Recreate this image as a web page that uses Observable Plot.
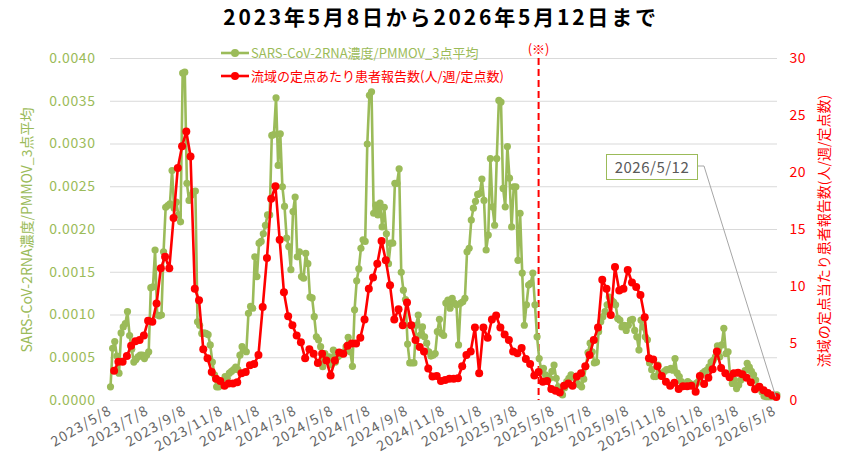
<!DOCTYPE html>
<html><head><meta charset="utf-8">
<script src="https://cdn.jsdelivr.net/npm/d3@7"></script>
<script src="https://cdn.jsdelivr.net/npm/@observablehq/plot@0.6"></script>
<style>
body{margin:0;background:#fff;}
#wrap{position:relative;width:858px;height:458px;overflow:hidden;font-family:"Noto Sans CJK JP","Noto Sans",sans-serif;}
#wrap svg.main{position:absolute;left:0;top:0;}
#wrap svg.main g[aria-label="x-axis tick label"] text{letter-spacing:1.2px;}
#wrap svg.main g[aria-label="y-axis tick label"] text{letter-spacing:0.6px;}
.title{position:absolute;left:0;top:1px;width:882px;text-align:center;font-size:21px;font-weight:bold;letter-spacing:2.8px;color:#000;}
.leg{position:absolute;left:221px;font-size:13px;white-space:nowrap;display:flex;align-items:center;}
.leg svg{margin-right:2px;}
.ytl{position:absolute;font-size:14px;white-space:nowrap;transform:translate(-50%,-50%) rotate(-90deg);}
.note{position:absolute;left:606px;top:154px;width:90px;height:24px;border:1.5px solid #9BBB59;color:#595959;font-size:15px;text-align:center;line-height:24px;letter-spacing:0.5px;background:#fff;}
</style></head><body><div id="wrap"></div>
<script>
const greenColor = "#9BBB59", redColor = "#FF0000";
const titleText = "2023年5月8日から2026年5月12日まで";
const greenName = "SARS-CoV-2RNA濃度/PMMOV_3点平均";
const redName = "流域の定点あたり患者報告数(人/週/定点数)";
const rightTitle = "流域の定点当たり患者報告数(人/週/定点数)";
const noteText = "2026/5/12";
const sepLabel = "(※)";
const sepDate = "2025-04-13";
const axisStart = "2023-05-08", axisEnd = "2026-05-12";
const xTickLabels = ["2023/5/8","2023/7/8","2023/9/8","2023/11/8","2024/1/8","2024/3/8","2024/5/8","2024/7/8","2024/9/8","2024/11/8","2025/1/8","2025/3/8","2025/5/8","2025/7/8","2025/9/8","2025/11/8","2026/1/8","2026/3/8","2026/5/8"];
const leftTicks = [0,0.0005,0.001,0.0015,0.002,0.0025,0.003,0.0035,0.004];
const rightTicks = [0,5,10,15,20,25,30];

// green: 3-point mean of RNA/PMMoV, twice weekly from 2023-05-08 (units of 1e-4)
const greenStart = "2023-05-08";
const greenValues = [
1.6,6.1,6.9,5.2,3.2,7.9,8.6,9.0,10.4,7.6,
6.0,4.5,4.8,5.1,5.3,5.3,4.9,5.3,5.7,13.2,
13.3,17.6,10.0,9.9,10.0,17.4,22.6,22.8,23.0,26.9,
22.5,23.2,21.7,20.9,38.3,38.4,25.4,23.4,24.0,24.4,
24.5,9.2,8.8,7.85,7.9,7.85,7.7,6.5,4.5,3.0,
1.6,1.6,1.8,1.8,2.8,2.6,3.2,3.4,3.6,3.9,
3.6,5.3,6.3,5.9,5.7,10.2,11.0,10.8,16.8,14.5,
18.4,18.6,19.5,20.5,21.7,21.7,31.0,31.1,35.4,27.5,
31.2,25.0,22.7,19.0,18.0,15.3,22.1,23.8,16.8,17.4,
14.5,14.3,17.2,16.0,12.1,12.0,9.8,7.45,7.1,6.3,
3.95,5.5,4.7,5.1,4.15,5.9,4.5,5.1,5.3,5.5,
5.7,6.3,7.4,5.7,4.0,10.6,14.0,15.4,17.8,18.8,
18.6,30.0,35.7,36.1,21.9,22.85,21.7,23.1,20.3,22.6,
19.5,16.0,18.4,18.4,25.4,25.4,27.1,15.0,12.9,11.8,
6.6,4.4,4.4,4.4,8.8,10.0,7.65,8.6,7.45,6.7,
5.7,5.2,5.3,5.5,8.05,9.5,7.85,7.6,11.4,11.75,
10.8,11.95,11.4,11.2,6.5,11.4,11.55,11.95,17.4,17.8,
21.1,22.5,23.3,24.1,24.2,25.9,23.4,17.6,19.35,28.3,
22.65,20.5,28.3,35.1,34.9,24.8,22.65,29.7,26.0,20.3,
25.0,25.0,16.4,21.9,14.9,8.8,11.2,13.5,13.7,14.9,
11.2,7.45,4.9,3.55,3.75,3.0,2.8,2.6,3.4,4.15,
2.6,1.6,1.2,0.65,1.5,2.2,2.6,3.0,2.8,2.6,
2.0,1.8,1.6,2.5,4.0,5.6,6.7,5.7,4.4,4.5,
8.05,9.2,9.8,10.4,11.2,12.1,11.75,11.5,11.2,9.6,
9.4,8.6,8.8,8.2,8.8,9.4,9.5,8.2,7.45,5.9,
9.4,8.6,7.45,7.1,4.4,3.6,2.8,2.8,4.15,3.0,
2.8,3.4,3.6,3.6,3.75,3.55,4.9,3.2,2.8,2.2,
1.8,1.9,2.2,2.0,1.8,1.7,2.0,2.2,2.8,3.2,
3.4,3.55,3.95,4.5,4.7,5.1,6.4,5.1,6.5,8.45,
5.5,5.7,2.8,2.0,2.4,1.4,1.8,2.4,2.8,3.5,
4.35,3.9,3.4,3.0,2.4,1.6,1.6,1.0,0.5,0.45,
0.45,0.45,0.5,0.6,0.65];

// red: weekly sentinel reports per site, from 2023-05-14
const redStart = "2023-05-14";
const redValues = [
2.6,3.4,3.4,3.9,4.8,5.2,5.3,5.7,7.0,6.9,
8.5,11.6,12.6,11.6,16.0,20.4,22.3,23.6,21.4,9.8,
8.8,4.5,3.7,2.5,1.9,1.7,1.3,1.5,1.5,1.6,
2.4,2.5,3.1,3.2,4.0,8.2,12.5,17.7,18.8,14.1,
9.5,7.4,6.6,5.7,5.1,3.7,4.5,4.1,3.3,4.1,
3.5,2.2,3.5,4.2,4.1,4.8,5.0,5.0,5.5,7.1,
9.8,10.8,12.0,14.0,12.3,10.1,7.1,8.0,6.6,8.6,
6.6,5.3,4.7,4.3,2.8,2.1,2.15,1.7,1.8,1.9,
1.9,1.95,3.0,4.0,4.3,6.4,2.4,6.4,5.5,7.1,
7.45,6.4,5.8,5.3,4.3,4.15,4.6,3.65,3.2,2.2,
2.5,1.65,1.7,1.0,0.86,0.7,1.3,1.5,1.3,2.1,
2.4,3.0,4.0,5.3,6.4,10.6,9.8,7.5,11.7,9.65,
9.8,11.45,10.35,9.95,9.25,7.3,3.7,3.6,3.0,2.15,
1.65,1.3,1.56,1.0,1.25,1.25,1.3,0.77,2.15,1.45,
2.0,2.74,4.3,2.85,2.4,2.05,2.4,2.44,2.3,2.0,
1.6,0.98,1.2,0.9,0.65,0.45,0.3];

const parse = d3.utcParse("%Y-%m-%d");
const parseSlash = d3.utcParse("%Y/%m/%d");
const kR = 0.004 / 30;
const green = greenValues.map((v, i) => ({date: d3.utcHour.offset(parse(greenStart), 84 * i), v: v * 1e-4}));
const red = redValues.map((v, i) => ({date: d3.utcDay.offset(parse(redStart), 7 * i), v: v * kR}));
const xTicks = xTickLabels.map(s => parseSlash(s));
const labelOf = new Map(xTicks.map((d, i) => [+d, xTickLabels[i]]));

const chart = Plot.plot({
  width: 858, height: 458,
  marginLeft: 110, marginRight: 81, marginTop: 58, marginBottom: 58,
  style: {fontFamily: '"Noto Sans CJK JP","Noto Sans",sans-serif', background: "transparent"},
  x: {type: "utc", domain: [parse(axisStart), parse(axisEnd)]},
  y: {domain: [0, 0.004]},
  marks: [
    Plot.gridY(leftTicks, {stroke: "#d9d9d9", strokeOpacity: 1, strokeWidth: 1.2}),
    Plot.axisY(leftTicks, {anchor: "left", tickSize: 0, tickPadding: 15, tickFormat: d => d.toFixed(4), fill: greenColor, fontSize: 14, label: null}),
    Plot.axisY(rightTicks.map(v => v * kR), {anchor: "right", tickSize: 0, tickPadding: 12, tickFormat: d => String(Math.round(d / kR)), fill: redColor, fontSize: 14, label: null}),
    Plot.axisX(xTicks, {anchor: "bottom", tickSize: 0, tickPadding: 9, tickRotate: -30, tickFormat: d => labelOf.get(+d), fill: "#666666", fontSize: 14, label: null}),
    Plot.ruleX([parse(sepDate)], {stroke: redColor, strokeWidth: 2, strokeDasharray: "7,4"}),
    Plot.text([parse(sepDate)], {x: d => d, frameAnchor: "top", dy: -14, text: () => sepLabel, fill: redColor, fontSize: 13}),
    Plot.line(green, {x: "date", y: "v", stroke: greenColor, strokeWidth: 2.6}),
    Plot.dot(green, {x: "date", y: "v", r: 3.6, fill: greenColor}),
    Plot.line(red, {x: "date", y: "v", stroke: redColor, strokeWidth: 2.6}),
    Plot.dot(red, {x: "date", y: "v", r: 4, fill: redColor})
  ]
});
chart.classList.add("main");

const wrap = document.getElementById("wrap");
wrap.appendChild(chart);

function div(cls, html, style) {
  const e = document.createElement("div");
  e.className = cls; e.innerHTML = html;
  if (style) Object.assign(e.style, style);
  wrap.appendChild(e); return e;
}
div("title", titleText);
const legIcon = c => `<svg width="28" height="10"><line x1="0" y1="5" x2="28" y2="5" stroke="${c}" stroke-width="2.6"/><circle cx="14" cy="5" r="4" fill="${c}"/></svg>`;
div("leg", legIcon(greenColor) + `<span style="color:${greenColor}">${greenName}</span>`, {top: "43px"});
div("leg", legIcon(redColor) + `<span style="color:${redColor}">${redName}</span>`, {top: "66px"});
div("ytl", greenName, {left: "26px", top: "230px", color: greenColor});
div("ytl", rightTitle, {left: "823px", top: "231px", color: redColor});

// leader line for the latest-date note, ending at the last plotted point
const last = red[red.length - 1];
const sx = chart.scale("x"), sy = chart.scale("y");
const ex = sx.apply(last.date), ey = sy.apply(last.v);
const ns = "http://www.w3.org/2000/svg";
const ov = document.createElementNS(ns, "svg");
ov.setAttribute("width", 858); ov.setAttribute("height", 458);
ov.style.position = "absolute"; ov.style.left = "0"; ov.style.top = "0";
const pl = document.createElementNS(ns, "polyline");
pl.setAttribute("points", `697,166 704,166 ${ex},${ey}`);
pl.setAttribute("fill", "none"); pl.setAttribute("stroke", "#a6a6a6"); pl.setAttribute("stroke-width", "1");
ov.appendChild(pl);
wrap.appendChild(ov);
div("note", noteText);
</script>
</body></html>
